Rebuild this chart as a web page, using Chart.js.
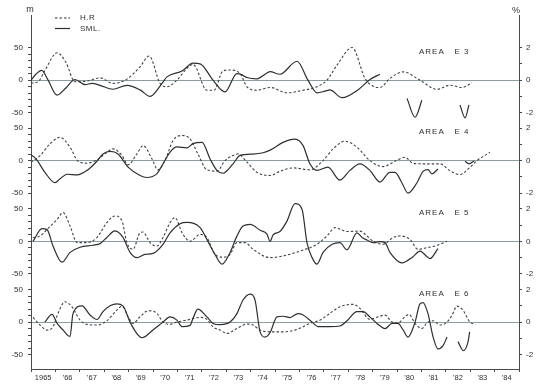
<!DOCTYPE html>
<html><head><meta charset="utf-8">
<script src="https://cdn.jsdelivr.net/npm/chart.js@4/dist/chart.umd.min.js"></script>
<style>html,body{margin:0;padding:0;background:#fff;}canvas{display:block;}</style>
</head><body>
<canvas id="c" width="541" height="384"></canvas>
<script>
// ---- tick labels / names ----
const yearLabels = ['1965',"'66","'67","'68","'69","'70","'71","'72","'73","'74","'75","'76","'77","'78","'79","'80","'81","'82","'83","'84"];
const seriesNames = ['H.R', 'SML.'];
const areaNames = ['AREA   E 3', 'AREA   E 4', 'AREA   E 5', 'AREA   E 6'];
const leftLabels = [50, 0, -50];   // m
const rightLabels = [2, 0, -2];    // %

// ---- data: [year, value]; SML in m, H.R in % ; null = gap ----
const e3Sml = [[1965.00,0],[1965.20,9],[1965.44,15],[1965.70,0],[1966.07,-23],[1966.43,-12],[1966.80,1],[1967.21,-7],[1967.50,-5],[1967.83,-8],[1968.36,-14],[1968.93,-8],[1969.47,-15],[1969.88,-25],[1970.37,-5],[1970.57,5],[1971.19,14],[1971.64,26],[1971.93,25],[1972.46,0],[1972.95,-18],[1973.44,10],[1973.65,8],[1973.85,4],[1974.26,2],[1974.67,11],[1974.80,13],[1975.20,9],[1975.90,29],[1976.35,0],[1976.72,-19.5],[1977.05,-17],[1977.25,-15],[1977.75,-27],[1978.40,-15],[1978.89,1],[1979.30,9],[1979.8,null],[1980.41,-28],[1980.74,-57],[1981.02,-31],[1981.8,null],[1982.58,-38],[1982.79,-58],[1982.95,-38]];
const e3Hr = [[1965.00,-0.18],[1965.29,-0.1],[1965.57,0.6],[1966.07,1.68],[1966.43,1.1],[1966.80,-0.1],[1967.30,-0.06],[1967.83,0.14],[1968.36,-0.2],[1968.93,0.06],[1969.47,0.82],[1969.84,1.48],[1970.29,-0.2],[1970.57,-0.41],[1970.98,0],[1971.39,0.72],[1971.64,0.97],[1972.21,-0.62],[1972.50,-0.62],[1972.87,0.57],[1973.16,0.62],[1973.57,0.41],[1973.85,-0.41],[1974.26,-0.62],[1974.80,-0.45],[1975.49,-0.78],[1976.15,-0.62],[1976.72,-0.41],[1977.13,0],[1977.54,0.92],[1978.16,2.0],[1978.69,0.1],[1979.02,-0.37],[1979.30,-0.45],[1979.71,0.1],[1980.25,0.51],[1980.94,0],[1981.64,-0.57],[1982.17,-0.31],[1982.66,-0.45],[1983.07,-0.17]];
const e4Sml = [[1965.00,9],[1965.20,3],[1965.57,-18],[1965.98,-34],[1966.19,-28],[1966.48,-21],[1966.89,-22],[1967.30,-15],[1967.70,-1],[1967.95,10],[1968.24,14],[1968.57,10],[1968.98,-10],[1969.47,-23],[1969.75,-26],[1970.16,-20],[1970.41,-5],[1970.70,13],[1970.98,21],[1971.39,19.5],[1971.64,26],[1972.01,28],[1972.34,2.5],[1972.62,-15],[1972.87,-19.5],[1973.28,-5],[1973.57,8],[1974.10,10],[1974.51,12],[1974.80,16],[1975.33,28],[1975.82,33],[1976.15,23],[1976.43,-5],[1976.72,-15],[1977.17,-10],[1977.66,-30],[1978.07,-15],[1978.48,-5],[1978.89,-15],[1979.30,-33],[1979.71,-18],[1979.92,-18],[1980.20,-34],[1980.45,-50],[1980.82,-34],[1981.07,-16.5],[1981.27,-14],[1981.43,-20.5],[1981.68,-13],[1982.3,null],[1982.79,-1],[1982.95,-5],[1983.16,-0.5]];
const e4Hr = [[1965.00,-0.1],[1965.37,0.3],[1965.78,1.03],[1966.19,1.43],[1966.60,0.82],[1966.93,-0.04],[1967.30,-0.16],[1967.70,0.04],[1968.11,0.51],[1968.36,0.72],[1968.73,0.31],[1968.98,-0.25],[1969.34,0.41],[1969.59,0.92],[1969.96,0.1],[1970.20,-0.57],[1970.49,0],[1970.82,1.23],[1971.19,1.54],[1971.52,1.33],[1971.84,0.41],[1972.21,-0.57],[1972.62,-0.65],[1972.95,0],[1973.28,0.31],[1973.48,0.41],[1973.85,-0.1],[1974.26,-0.72],[1974.80,-0.92],[1975.20,-0.66],[1975.74,-0.45],[1976.43,-0.57],[1976.97,0],[1977.38,0.72],[1977.87,1.19],[1978.36,0.82],[1978.89,0],[1979.43,-0.37],[1979.92,-0.04],[1980.33,0.2],[1980.66,-0.17],[1981.07,-0.2],[1981.76,-0.2],[1982.17,-0.62],[1982.58,-0.86],[1982.99,-0.41],[1983.28,0],[1983.81,0.51]];
const e5Sml = [[1965.08,0],[1965.45,19.5],[1965.66,18],[1965.90,-7],[1966.27,-32],[1966.60,-17],[1967.01,-9],[1967.54,-6],[1967.83,-3.5],[1968.11,6],[1968.44,16],[1968.77,6],[1969.06,-17],[1969.34,-25],[1969.67,-20],[1970.00,-18.5],[1970.41,-4.5],[1970.70,13],[1971.11,27],[1971.39,29],[1971.93,21],[1972.25,0],[1972.54,-20],[1972.83,-35],[1973.16,-17],[1973.44,8],[1973.69,23.5],[1973.98,26],[1974.39,17],[1974.67,11],[1974.80,0],[1974.92,10],[1975.20,15],[1975.49,31],[1975.82,58],[1976.11,49],[1976.31,-2],[1976.52,-25],[1976.72,-35],[1976.97,-17],[1977.34,-4.5],[1977.66,-2],[1977.95,-13],[1978.36,13],[1978.57,6],[1978.77,2],[1979.02,-2],[1979.30,-0.5],[1979.51,-2],[1979.71,-17],[1980.20,-33],[1980.66,-23.5],[1980.94,-15],[1981.23,-23.5],[1981.35,-26.5],[1981.68,-11]];
const e5Hr = [[1965.08,0.23],[1965.37,0.33],[1965.66,0.74],[1966.07,1.35],[1966.31,1.77],[1966.60,0.94],[1966.89,-0.08],[1967.30,-0.08],[1967.70,0.23],[1968.11,1.15],[1968.44,1.56],[1968.73,1.25],[1968.93,-0.08],[1969.18,-0.49],[1969.47,0.53],[1969.59,0.57],[1969.88,-0.08],[1970.16,-0.29],[1970.41,0.23],[1970.70,1.15],[1970.90,1.46],[1971.19,0.53],[1971.52,0],[1971.93,0.43],[1972.21,0.23],[1972.54,-0.8],[1972.87,-0.97],[1973.16,-0.8],[1973.44,-0.08],[1973.77,-0.08],[1974.10,-0.49],[1974.80,-1.0],[1975.33,-0.9],[1976.02,-0.6],[1976.72,-0.18],[1977.13,0.33],[1977.46,0.84],[1977.95,0.6],[1978.48,0.63],[1978.77,0.33],[1979.02,0],[1979.43,-0.18],[1979.84,0.23],[1980.12,0.33],[1980.53,0.12],[1980.86,-0.49],[1981.23,-0.39],[1981.64,-0.25],[1982.05,0]];
const e6Sml = [[1965.57,0],[1965.86,12],[1966.07,-2],[1966.31,-12],[1966.60,-22],[1966.72,13],[1967.09,25],[1967.42,11],[1967.70,4],[1967.95,16],[1968.24,25],[1968.52,28],[1968.77,25],[1969.06,0],[1969.39,-20],[1969.55,-24],[1970.00,-12],[1970.41,0],[1970.70,8],[1970.98,3],[1971.19,-7],[1971.52,-5],[1971.64,6],[1971.84,20],[1972.21,8],[1972.46,-2],[1972.75,-4],[1973.16,0],[1973.44,13],[1973.69,34],[1973.98,43],[1974.18,34],[1974.39,-15],[1974.59,-23],[1974.80,-16],[1975.08,8],[1975.33,9],[1975.61,7],[1975.94,13],[1976.15,11],[1976.52,0],[1976.76,-7],[1977.25,-7],[1977.66,-6],[1977.95,2],[1978.36,16],[1978.61,16],[1978.89,8],[1979.18,-2],[1979.51,-10],[1979.80,-2],[1980.04,-2],[1980.25,-12],[1980.45,-23],[1980.74,0],[1980.94,28],[1981.07,30],[1981.27,13],[1981.48,-23],[1981.68,-41],[1981.89,-36],[1982.05,-23],[1982.3,null],[1982.50,-30],[1982.72,-44],[1982.90,-32],[1982.98,-15]];
const e6Hr = [[1965.08,0.29],[1965.37,-0.18],[1965.66,-0.49],[1965.90,-0.29],[1966.11,0.54],[1966.39,1.25],[1966.68,0.94],[1967.01,0.12],[1967.30,-0.14],[1967.70,-0.18],[1968.11,0.08],[1968.52,0.74],[1968.73,0.98],[1968.98,0.33],[1969.18,-0.08],[1969.47,0.33],[1969.80,0.7],[1970.16,0.54],[1970.41,0],[1970.70,-0.14],[1970.98,0],[1971.39,0.12],[1971.93,0.29],[1972.21,0.17],[1972.46,-0.29],[1972.75,-0.49],[1973.03,-0.7],[1973.44,-0.39],[1973.85,-0.12],[1974.10,-0.18],[1974.39,-0.49],[1974.80,-0.6],[1975.33,-0.6],[1975.90,-0.45],[1976.43,-0.08],[1976.84,0.12],[1977.25,0.54],[1977.66,0.94],[1978.20,1.09],[1978.48,0.84],[1978.89,0.17],[1979.30,0.37],[1979.51,0.43],[1979.80,0],[1980.04,-0.04],[1980.33,0.33],[1980.49,0.47],[1980.74,-0.08],[1981.02,-0.39],[1981.23,-0.04],[1981.48,0.08],[1981.76,-0.18],[1982.05,0],[1982.25,0.41],[1982.46,0.98],[1982.70,0.74],[1982.99,0],[1983.20,-0.14]];

// ---- layout / style ----
const INK = '#2f2f2f', AXIS = '#4a4a4a', ZERO = '#8e9ca2';
const FONT = '"Liberation Sans", Arial, sans-serif';
const M_PER_PCT = 25; // 2 % on the right axis level with 50 m on the left
const panels = [
  {key:'E3', sml:e3Sml, hr:e3Hr, min:-61.5, max:100},
  {key:'E4', sml:e4Sml, hr:e4Hr, min:-62, max:62},
  {key:'E5', sml:e5Sml, hr:e5Hr, min:-62, max:62},
  {key:'E6', sml:e6Sml, hr:e6Hr, min:-72, max:62}
];
const toXY = arr => arr.map(([x, y]) => ({x, y}));

const scales = {
  x: {
    type:'linear', position:'bottom', min:1965, max:1985,
    afterBuildTicks: s => { const t = []; for (let v = 1965; v <= 1985; v += 0.5) t.push({value:v}); s.ticks = t; },
    afterFit: s => { s.height = 15; },
    ticks: { autoSkip:false, maxRotation:0, minRotation:0, padding:1, color:INK,
      font:{family:FONT, size:7.5},
      callback: v => Number.isInteger(v) ? '' : (yearLabels[Math.floor(v) - 1965] || '') },
    grid: { drawOnChartArea:false, tickLength:3, tickWidth:1,
      tickColor: ctx => (ctx.tick && Number.isInteger(ctx.tick.value)) ? AXIS : 'transparent' },
    border: { display:true, color:AXIS, width:1 }
  }
};
const datasets = [];
panels.forEach((p, i) => {
  const L = 'y' + p.key, R = 'r' + p.key;
  scales[L] = {
    type:'linear', position:'left', stack:'left', stackWeight:p.max - p.min, weight:10 - i,
    min:p.min, max:p.max,
    afterBuildTicks: s => { const t = []; for (let v = -50; v <= 50; v += 10) t.push({value:v}); s.ticks = t; },
    afterFit: s => { s.width = 31; },
    ticks: { autoSkip:false, padding:5, color:INK, font:{family:FONT, size:8},
      callback: v => leftLabels.includes(v) ? String(v) : '' },
    grid: { drawOnChartArea:true, tickLength:3, tickWidth:1, tickColor:AXIS, lineWidth:1,
      color: ctx => (ctx.tick && ctx.tick.value === 0) ? ZERO : 'transparent' },
    border: { display:true, color:AXIS, width:1 }
  };
  scales[R] = {
    type:'linear', position:'right', stack:'right', stackWeight:p.max - p.min, weight:i + 1,
    min:p.min / M_PER_PCT, max:p.max / M_PER_PCT,
    afterBuildTicks: s => { s.ticks = [-2, -1, 0, 1, 2].map(v => ({value:v})); },
    afterFit: s => { s.width = 22; },
    ticks: { autoSkip:false, padding:4, crossAlign:'near', color:INK, font:{family:FONT, size:8},
      callback: v => rightLabels.includes(v) ? String(v) : '' },
    grid: { drawOnChartArea:false, tickLength:3, tickWidth:1, tickColor:AXIS },
    border: { display:true, color:AXIS, width:1 }
  };
  datasets.push({ label:seriesNames[1] + ' ' + p.key, data:toXY(p.sml), xAxisID:'x', yAxisID:L,
    borderColor:INK, borderWidth:1.2, pointRadius:0, cubicInterpolationMode:'monotone', spanGaps:false, fill:false });
  datasets.push({ label:seriesNames[0] + ' ' + p.key, data:toXY(p.hr), xAxisID:'x', yAxisID:R,
    borderColor:'#444', borderWidth:1.1, borderDash:[2.5, 2], pointRadius:0, cubicInterpolationMode:'monotone', spanGaps:false, fill:false });
});

const annot = {
  id:'annot',
  afterDraw(chart) {
    const c = chart.ctx;
    c.save();
    c.fillStyle = INK; c.strokeStyle = INK;
    c.textBaseline = 'middle';
    c.font = '9px ' + FONT; c.textAlign = 'center';
    c.fillText('m', 30, 10);
    c.fillText('%', 516, 11);
    // legend
    c.lineWidth = 1.1; c.setLineDash([2.5, 2]);
    c.beginPath(); c.moveTo(55, 18); c.lineTo(70, 18); c.stroke();
    c.setLineDash([]); c.lineWidth = 1.2;
    c.beginPath(); c.moveTo(55, 28.5); c.lineTo(70, 28.5); c.stroke();
    c.textAlign = 'left'; c.font = '8px ' + FONT;
    try { c.letterSpacing = '0.5px'; } catch (e) {}
    c.fillText(seriesNames[0], 80, 17.5);
    c.fillText(seriesNames[1], 80, 28.5);
    // area labels
    try { c.letterSpacing = '1px'; } catch (e) {}
    panels.forEach((p, i) => {
      const y = chart.scales['y' + p.key].getPixelForValue(44);
      c.fillText(areaNames[i], 419, y);
    });
    c.restore();
  }
};

new Chart(document.getElementById('c'), {
  type:'line',
  data:{ datasets },
  options:{
    responsive:false, animation:false, devicePixelRatio:1,
    layout:{ padding:{ top:15, left:0, right:0, bottom:0 } },
    plugins:{ legend:{display:false}, tooltip:{enabled:false} },
    scales
  },
  plugins:[annot]
});
</script>
</body></html>
